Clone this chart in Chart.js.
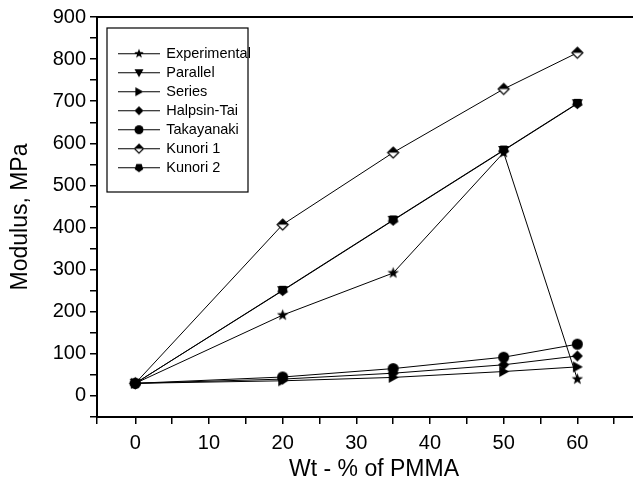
<!DOCTYPE html>
<html>
<head>
<meta charset="utf-8">
<script src="https://cdn.jsdelivr.net/npm/chart.js@4.4.1/dist/chart.umd.min.js"></script>
<style>
  body { margin: 0; background: #fff; overflow: hidden; }
  canvas { display: block; }
</style>
</head>
<body>
<canvas id="chart" width="658" height="481"></canvas>
<script>
// values (Wt-% PMMA vs modulus in MPa)
const wtPercent = [0, 20, 35, 50, 60];
const experimental = [30, 192, 292, 578, 40];
const parallel = [30, 250, 417, 583, 694];
const series = [30, 36, 44, 58, 69];
const halpinTsai = [30, 40, 54, 74, 95];
const takayanaki = [30, 45, 65, 92, 123];
const kunori1 = [30, 407, 578, 729, 815];
const kunori2 = [30, 251, 418, 584, 695];

const seriesNames = ['Experimental', 'Parallel', 'Series', 'Halpsin-Tai', 'Takayanaki', 'Kunori 1', 'Kunori 2'];
const seriesValues = [experimental, parallel, series, halpinTsai, takayanaki, kunori1, kunori2];
const markerKinds = ['star', 'triDown', 'triRight', 'diamond', 'circle', 'halfDiamond', 'pentagon'];

const FONT = `'Liberation Sans', Arial, Helvetica, sans-serif`;

const tracePath = (ctx, kind, cx, cy, r) => {
  ctx.beginPath();
  if (kind === `circle`) {
    ctx.arc(cx, cy, r, 0, Math.PI * 2);
  } else if (kind === `star`) {
    for (let i = 0; i < 10; i++) {
      const rad = i % 2 ? r * 0.45 : r * 1.1;
      const a = -Math.PI / 2 + i * Math.PI / 5;
      ctx.lineTo(cx + rad * Math.cos(a), cy + rad * Math.sin(a));
    }
  } else if (kind === `triDown`) {
    ctx.moveTo(cx - r, cy - r * 0.8);
    ctx.lineTo(cx + r, cy - r * 0.8);
    ctx.lineTo(cx, cy + r);
  } else if (kind === `triRight`) {
    ctx.moveTo(cx - r * 0.8, cy - r);
    ctx.lineTo(cx + r, cy);
    ctx.lineTo(cx - r * 0.8, cy + r);
  } else if (kind === `diamond` || kind === `halfDiamond`) {
    ctx.moveTo(cx, cy - r);
    ctx.lineTo(cx + r, cy);
    ctx.lineTo(cx, cy + r);
    ctx.lineTo(cx - r, cy);
  } else if (kind === `pentagon`) {
    for (let i = 0; i < 5; i++) {
      const a = Math.PI / 2 + i * Math.PI * 2 / 5;
      ctx.lineTo(cx + r * Math.cos(a), cy + r * Math.sin(a));
    }
  }
  ctx.closePath();
};

const makeMarker = (kind, r, lineLen) => {
  const c = document.createElement(`canvas`);
  const h = Math.ceil(r * 2 + 4);
  c.width = lineLen || h;
  c.height = h;
  const ctx = c.getContext(`2d`);
  const cx = c.width / 2;
  const cy = h / 2;
  if (lineLen) {
    ctx.strokeStyle = `#000`;
    ctx.lineWidth = 1;
    ctx.beginPath();
    ctx.moveTo(0, cy);
    ctx.lineTo(c.width, cy);
    ctx.stroke();
  }
  if (kind === `halfDiamond`) {
    tracePath(ctx, kind, cx, cy, r);
    ctx.fillStyle = `#fff`;
    ctx.fill();
    ctx.beginPath();
    ctx.moveTo(cx - r, cy);
    ctx.lineTo(cx, cy - r);
    ctx.lineTo(cx + r, cy);
    ctx.closePath();
    ctx.fillStyle = `#000`;
    ctx.fill();
    tracePath(ctx, kind, cx, cy, r);
    ctx.lineWidth = 1.2;
    ctx.strokeStyle = `#000`;
    ctx.stroke();
  } else {
    tracePath(ctx, kind, cx, cy, r);
    ctx.fillStyle = `#000`;
    ctx.fill();
  }
  return c;
};

const pointMarks = markerKinds.map((k) => makeMarker(k, 5.5));
const legendMarks = markerKinds.map((k) => makeMarker(k, 4.5, 42));

const datasets = seriesNames.map((name, i) => ({
  label: name,
  data: wtPercent.map((x, j) => ({x, y: seriesValues[i][j]})),
  borderColor: `#000`,
  backgroundColor: `#000`,
  borderWidth: 1,
  pointStyle: pointMarks[i],
  pointRadius: 5,
  tension: 0,
}));

// legend sits inside the plot with a thin frame round it
const legendPlace = {
  id: `legendPlace`,
  afterLayout(chart) {
    const lg = chart.legend;
    const dx = chart.chartArea.left + 17.5 - lg.left;
    const dy = chart.chartArea.top + 25 - lg.top;
    lg.left += dx; lg.right += dx;
    lg.top += dy; lg.bottom += dy;
  },
  afterDraw(chart) {
    const lg = chart.legend;
    const ctx = chart.ctx;
    ctx.save();
    ctx.strokeStyle = `#000`;
    ctx.lineWidth = 1.2;
    ctx.strokeRect(lg.left - 7.5, lg.top - 14, 141, 164);
    ctx.restore();
  }
};

new Chart(document.getElementById(`chart`), {
  type: `line`,
  data: {datasets},
  plugins: [legendPlace],
  options: {
    responsive: false,
    animation: false,
    layout: {padding: 0},
    scales: {
      x: {
        type: `linear`,
        min: -5.2,
        max: 70,
        afterFit: (scale) => { scale.height = 64; },
        grid: {drawOnChartArea: false, color: `#000`, tickLength: 7, lineWidth: 1.5},
        border: {color: `#000`, width: 2},
        ticks: {
          stepSize: 5,
          color: `#000`,
          padding: 7,
          font: {family: FONT, size: 20},
          maxRotation: 0,
          autoSkip: false,
          callback: (v) => (v % 10 === 0 && v >= 0 && v <= 60 ? v : ``),
        },
        title: {
          display: true,
          text: `Wt - % of PMMA`,
          color: `#000`,
          font: {family: FONT, size: 23, lineHeight: 1},
          padding: {top: 0, bottom: 0},
        },
      },
      xTop: {
        type: `linear`,
        position: `top`,
        min: -5.2,
        max: 70,
        afterFit: (scale) => { scale.height = 17; },
        grid: {display: false},
        border: {color: `#000`, width: 2},
        ticks: {display: false},
      },
      y: {
        min: -50,
        max: 900,
        afterFit: (scale) => { scale.width = 97; },
        grid: {drawOnChartArea: false, color: `#000`, tickLength: 7, lineWidth: 1.5},
        border: {color: `#000`, width: 2},
        ticks: {
          stepSize: 50,
          color: `#000`,
          padding: 4,
          font: {family: FONT, size: 20},
          autoSkip: false,
          callback: (v) => (v % 100 === 0 && v >= 0 ? v : ``),
        },
        title: {
          display: true,
          text: `Modulus, MPa`,
          color: `#000`,
          font: {family: FONT, size: 23, lineHeight: 1},
          padding: {top: 9, bottom: 0},
        },
      },
    },
    plugins: {
      tooltip: {enabled: false},
      legend: {
        position: `chartArea`,
        align: `start`,
        labels: {
          usePointStyle: true,
          pointStyleWidth: 40,
          padding: 4.5,
          color: `#000`,
          font: {family: FONT, size: 14.5},
          generateLabels: (chart) => chart.data.datasets.map((ds, i) => ({
            text: ds.label,
            pointStyle: legendMarks[i],
            fontColor: `#000`,
            fillStyle: `#000`,
            strokeStyle: `#000`,
            lineWidth: 0,
            hidden: false,
            datasetIndex: i,
          })),
        },
      },
    },
  },
});
</script>
</body>
</html>
